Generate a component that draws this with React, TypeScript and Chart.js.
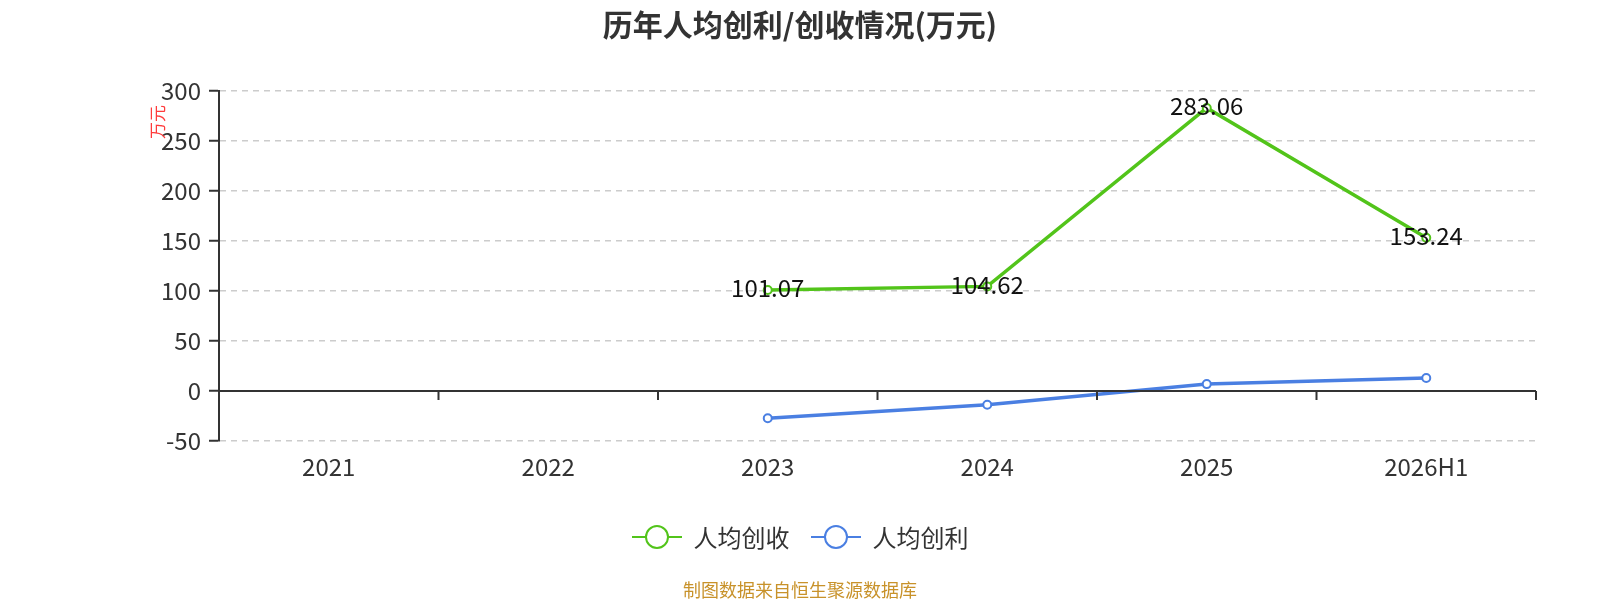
import { useRef, useEffect } from 'react'
import { Chart, registerables } from 'chart.js'

Chart.register(...registerables)

const years = ['2021', '2022', '2023', '2024', '2025', '2026H1']
const revenuePerHead = [null, null, 101.07, 104.62, 283.06, 153.24]
const profitPerHead = [null, null, -27.3, -13.7, 6.9, 13.0]
const yTicks = [-50, 0, 50, 100, 150, 200, 250, 300]

const GREEN = '#52c41a'
const BLUE = '#4a7fe2'
const FONT = '"Noto Sans CJK SC", "Noto Sans", sans-serif'
const W = 1600

// value labels on the green line, zero axis + its tick marks, the red unit name
const extras = {
  id: 'extras',
  afterDatasetsDraw(chart: any) {
    const { ctx, chartArea, scales } = chart
    const x = scales.x, y = scales.y
    const y0 = y.getPixelForValue(0)
    ctx.save()
    ctx.strokeStyle = '#333'
    ctx.lineWidth = 2
    ctx.beginPath()
    ctx.moveTo(chartArea.left, y0)
    ctx.lineTo(chartArea.right, y0)
    for (let i = 0; i < years.length; i++) {
      const px = i < years.length - 1
        ? (x.getPixelForValue(i) + x.getPixelForValue(i + 1)) / 2
        : chartArea.right
      ctx.moveTo(px, y0)
      ctx.lineTo(px, y0 + 9)
    }
    ctx.stroke()

    const meta = chart.getDatasetMeta(0)
    ctx.fillStyle = '#111'
    ctx.font = `24px ${FONT}`
    ctx.textAlign = 'center'
    ctx.textBaseline = 'middle'
    meta.data.forEach((pt: any, i: number) => {
      const v = revenuePerHead[i]
      if (v == null) return
      ctx.fillText(v.toFixed(2), pt.x, pt.y - 2)
    })

    ctx.translate(chartArea.left - 61, chartArea.top + 31)
    ctx.rotate(-Math.PI / 2)
    ctx.fillStyle = '#ff3b3b'
    ctx.font = `17px ${FONT}`
    ctx.fillText('万元', 0, 0)
    ctx.restore()
  },
}

function LegendIcon({ color }: { color: string }) {
  return (
    <svg width="50" height="28" style={{ display: 'block' }}>
      <line x1="0" y1="14" x2="50" y2="14" stroke={color} strokeWidth="2" />
      <circle cx="25" cy="14" r="11" fill="#fff" stroke={color} strokeWidth="2" />
    </svg>
  )
}

export default function App() {
  const canvasRef = useRef<HTMLCanvasElement>(null)
  const chartRef = useRef<Chart | null>(null)

  useEffect(() => {
    document.documentElement.style.overflow = 'hidden'
    document.body.style.margin = '0'
    document.body.style.overflow = 'hidden'
    if (!canvasRef.current) return
    if (chartRef.current) chartRef.current.destroy()

    chartRef.current = new Chart(canvasRef.current, {
      type: 'line',
      data: {
        labels: years,
        datasets: [
          {
            label: '人均创收', data: revenuePerHead, borderColor: GREEN, borderWidth: 3.5,
            pointRadius: 4, pointBackgroundColor: '#fff', pointBorderColor: GREEN, pointBorderWidth: 2,
            tension: 0,
          },
          {
            label: '人均创利', data: profitPerHead, borderColor: BLUE, borderWidth: 3.5,
            pointRadius: 4, pointBackgroundColor: '#fff', pointBorderColor: BLUE, pointBorderWidth: 2,
            tension: 0,
          },
        ],
      },
      options: {
        responsive: true,
        maintainAspectRatio: false,
        animation: false,
        layout: { padding: { top: 91, right: 64, left: 0, bottom: 0 } },
        plugins: { legend: { display: false }, title: { display: false }, tooltip: { enabled: false } },
        scales: {
          x: {
            offset: true,
            grid: { display: false, drawTicks: false },
            border: { display: false },
            ticks: { color: '#333', font: { size: 24, family: FONT }, padding: 11 },
            afterFit: (s: any) => { s.height = 159 },
          },
          y: {
            min: -50,
            max: 300,
            afterBuildTicks: (s: any) => { s.ticks = yTicks.map(v => ({ value: v })) },
            grid: {
              color: (c: any) => (c.tick && c.tick.value === 0 ? 'rgba(0,0,0,0)' : '#cccccc'),
              lineWidth: 1.5,
              tickColor: '#333',
              tickWidth: 2,
              tickLength: 10,
            },
            border: { display: true, color: '#333', width: 2, dash: [6, 5] },
            ticks: { color: '#333', font: { size: 24, family: FONT }, padding: 8 },
            afterFit: (s: any) => { s.width = 219 },
          },
        },
      },
      plugins: [extras],
    })

    return () => { chartRef.current?.destroy() }
  }, [])

  return (
    <div style={{ position: 'fixed', left: 0, top: 0, width: W, height: 600, background: '#fff', fontFamily: FONT, overflow: 'hidden' }}>
      <div style={{ position: 'absolute', left: 0, top: 0, width: W, height: 600 }}>
        <canvas ref={canvasRef} />
      </div>
      <div style={{ position: 'absolute', top: 3, left: 0, width: W, textAlign: 'center', fontSize: 30, fontWeight: 'bold', color: '#333', lineHeight: '40px' }}>
        历年人均创利/创收情况(万元)
      </div>
      <div style={{ position: 'absolute', top: 519, left: 0, width: W, display: 'flex', justifyContent: 'center', alignItems: 'center', fontSize: 24, color: '#333', lineHeight: '36px' }}>
        {[{ label: '人均创收', color: GREEN }, { label: '人均创利', color: BLUE }].map((item, i) => (
          <div key={item.label} style={{ display: 'flex', alignItems: 'center', marginLeft: i ? 21 : 0 }}>
            <LegendIcon color={item.color} />
            <span style={{ marginLeft: 12 }}>{item.label}</span>
          </div>
        ))}
      </div>
      <div style={{ position: 'absolute', top: 577, left: 0, width: W, textAlign: 'center', fontSize: 18, color: '#c8922a', lineHeight: '24px' }}>
        制图数据来自恒生聚源数据库
      </div>
    </div>
  )
}
